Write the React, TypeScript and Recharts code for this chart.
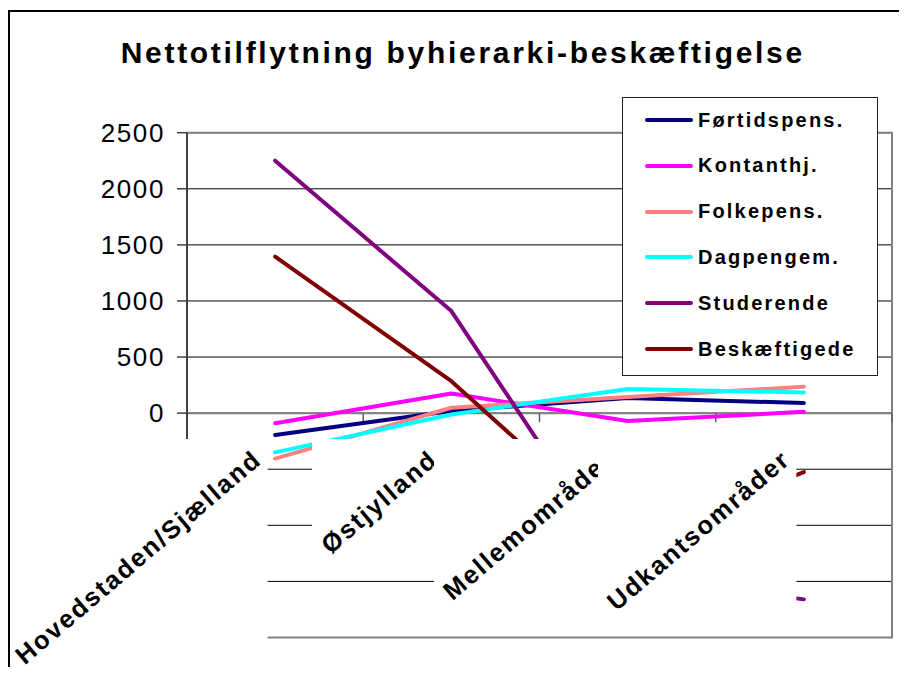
import React from 'react';
import { LineChart, Line, XAxis, YAxis, CartesianGrid, ReferenceLine, ReferenceArea, Legend } from 'recharts';

const regions = ['Hovedstaden/Sjælland', 'Østjylland', 'Mellemområder', 'Udkantsområder'];
const fortidspens = [-195, 20, 135, 90];
const kontanthj = [-90, 175, -70, 12];
const folkepens = [-405, 48, 145, 235];
const dagpengem = [-350, -12, 215, 185];
const studerende = [2250, 910, -1450, -1660];
const beskaeftigede = [1395, 285, -1130, -525];

const seriesNames = ['Førtidspens.', 'Kontanthj.', 'Folkepens.', 'Dagpengem.', 'Studerende', 'Beskæftigede'];
const seriesColors = ['#000080', '#FF00FF', '#FF8080', '#00FFFF', '#800080', '#800000'];
const seriesValues = [fortidspens, kontanthj, folkepens, dagpengem, studerende, beskaeftigede];
const yTicks = [-2000, -1500, -1000, -500, 0, 500, 1000, 1500, 2000, 2500];
const title = 'Nettotilflytning byhierarki-beskæftigelse';

const data = regions.map((r, i) => {
  const row: any = { region: r };
  seriesValues.forEach((vals, j) => {
    row['s' + j] = vals[i];
  });
  return row;
});

const FONT = '"Liberation Sans", Arial, Helvetica, sans-serif';

let measureCtx: CanvasRenderingContext2D | null = null;
function textWidth(s: string, font: string, spacing: number) {
  if (!measureCtx && typeof document !== 'undefined') {
    measureCtx = document.createElement('canvas').getContext('2d');
  }
  if (!measureCtx) return s.length * 14 + spacing * s.length;
  measureCtx.font = font;
  return measureCtx.measureText(s).width + spacing * s.length;
}

const XTick = (props: any) => {
  const { x, y, payload } = props;
  const label = String(payload.value);
  const fs = 25.5;
  const ls = 2;
  const ang = 40.5;
  const ax = x - 12;
  const ay = y - 175.5;
  const w = textWidth(label, `bold ${fs}px ${FONT}`, ls);
  const rad = (ang * Math.PI) / 180;
  const c = Math.cos(rad);
  const s = Math.sin(rad);
  const asc = fs * 0.905;
  const desc = fs * 0.212;
  const left = ax - w * c - asc * s - 3.5;
  const right = ax + 4.5;
  const top = ay - 23;
  const bottom = ay + w * s + desc * c + 1;
  return (
    <g>
      <rect x={left} y={top} width={right - left} height={bottom - top} fill="#ffffff" />
      <text
        x={ax}
        y={ay}
        transform={`rotate(-${ang} ${ax} ${ay})`}
        textAnchor="end"
        fontFamily={FONT}
        fontWeight="bold"
        fontSize={fs}
        letterSpacing={ls}
        fill="#000"
      >
        {label}
      </text>
    </g>
  );
};

const ZeroAxis = (props: any) => {
  let { x1, y1, x2, y2 } = props;
  if (x1 === undefined && props.points) {
    x1 = props.points[0].x;
    y1 = props.points[0].y;
    x2 = props.points[1].x;
    y2 = props.points[1].y;
  }
  const n = regions.length;
  const marks = [];
  for (let i = 1; i <= n; i++) {
    const tx = x1 + (i * (x2 - x1)) / n;
    marks.push(<line key={i} x1={tx} y1={y1} x2={tx} y2={y1 + 9} stroke="#606060" strokeWidth={1.5} />);
  }
  return (
    <g>
      <line x1={x1} y1={y1} x2={x2} y2={y2} stroke="#808080" strokeWidth={2} />
      {marks}
    </g>
  );
};

const LegendBox = () => (
  <div
    style={{
      width: 256,
      height: 279,
      border: '1.5px solid #222',
      background: '#fff',
      boxSizing: 'border-box',
      position: 'relative',
      fontFamily: FONT,
    }}
  >
    {seriesNames.map((n, i) => (
      <div
        key={n}
        style={{
          position: 'absolute',
          left: 0,
          top: 22 + i * 45.8 - 12,
          height: 24,
          display: 'flex',
          alignItems: 'center',
          whiteSpace: 'nowrap',
        }}
      >
        <span
          style={{
            display: 'inline-block',
            marginLeft: 22,
            width: 48,
            height: 4,
            borderRadius: 2,
            background: seriesColors[i],
          }}
        />
        <span style={{ marginLeft: 5, fontWeight: 'bold', fontSize: 20, letterSpacing: 2.2, color: '#000' }}>{n}</span>
      </div>
    ))}
  </div>
);

export default function App() {
  const W = 891;
  const H = 659;
  return (
    <div style={{ position: 'relative', width: W, height: H, overflow: 'hidden', background: '#fff' }}>
      <LineChart width={W} height={H} data={data} margin={{ top: 124.7, right: 7, bottom: 0, left: 0 }}>
        <CartesianGrid vertical={false} stroke="#000" strokeWidth={1} />
        <ReferenceArea y1={-2000} y2={2500} fill="none" fillOpacity={0} stroke="#808080" strokeWidth={2} />
        <ReferenceLine y={0} shape={<ZeroAxis />} />
        {seriesNames.map((n, j) => (
          <Line
            key={n}
            type="linear"
            dataKey={'s' + j}
            name={n}
            stroke={seriesColors[j]}
            strokeWidth={4}
            strokeLinecap="round"
            strokeLinejoin="round"
            dot={false}
            activeDot={false}
            isAnimationActive={false}
          />
        ))}
        <YAxis
          type="number"
          domain={[-2000, 2500]}
          ticks={yTicks}
          interval={0}
          width={179}
          tickSize={10}
          tickMargin={12}
          axisLine={{ stroke: '#404040', strokeWidth: 2 }}
          tickLine={{ stroke: '#404040', strokeWidth: 1.5 }}
          tick={{ fontSize: 26, fill: '#000', fontFamily: FONT, letterSpacing: 1.6 }}
        />
        <XAxis
          dataKey="region"
          type="category"
          scale="band"
          height={29.5}
          interval={0}
          axisLine={false}
          tickLine={false}
          tickSize={0}
          tickMargin={0}
          tick={<XTick />}
        />
        <Legend
          layout="vertical"
          align="center"
          verticalAlign="middle"
          wrapperStyle={{ left: 614, top: 89, width: 256, height: 279 }}
          content={() => <LegendBox />}
        />
      </LineChart>
      <svg width={W} height={90} style={{ position: 'absolute', left: 0, top: 0, pointerEvents: 'none' }}>
        <text x={454.8} y={55.3} textAnchor="middle" fontFamily={FONT} fontWeight="bold" fontSize={30} letterSpacing={2.7} fill="#000">
          {title}
        </text>
      </svg>
      <div
        style={{
          position: 'absolute',
          left: 0,
          top: 2,
          width: 2000,
          height: 2000,
          borderLeft: '2px solid #000',
          borderTop: '2px solid #000',
          pointerEvents: 'none',
        }}
      />
    </div>
  );
}
